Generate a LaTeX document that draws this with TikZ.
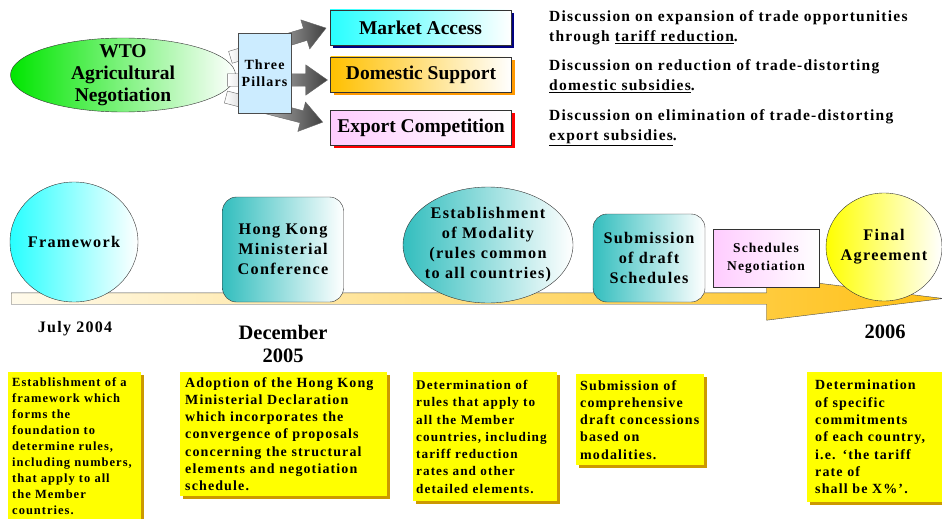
\documentclass[tikz,border=0pt]{standalone}
\usepackage{fontspec}
\setmainfont{Liberation Serif}
\newfontfamily\wide{Liberation Serif}[LetterSpace=8]
\usetikzlibrary{shapes.geometric,shapes.arrows,shadows}

\definecolor{wtogreen}{RGB}{0,230,0}
\definecolor{pillarblue}{RGB}{204,236,255}
\definecolor{accesscyan}{RGB}{40,255,255}
\definecolor{domorange}{RGB}{255,192,0}
\definecolor{exportpink}{RGB}{255,204,255}
\definecolor{navyshadow}{RGB}{0,0,128}
\definecolor{orangeshadow}{RGB}{255,153,0}
\definecolor{redshadow}{RGB}{255,0,0}
\definecolor{stageteal}{RGB}{51,190,190}
\definecolor{finalyellow}{RGB}{255,255,0}
\definecolor{linecream}{RGB}{255,250,235}
\definecolor{linegold}{RGB}{255,192,20}
\definecolor{noteyellow}{RGB}{255,255,0}
\definecolor{noteshadow}{RGB}{204,153,0}

\newcommand\fs[2]{\fontsize{#1}{#2}\selectfont}
\hyphenpenalty=10000
\exhyphenpenalty=10000

\tikzset{
  pilbox/.style={draw=black!80, minimum width=181pt, minimum height=35pt, right color=white,
    inner sep=0pt, font=\bfseries\fs{19.5}{22}},
  pilarrow/.style={single arrow, draw=black!60, left color=white, right color=black!75,
    minimum height=100pt, text height=6pt, text depth=6pt, single arrow head extend=9pt,
    single arrow tip angle=70, inner sep=0pt},
  desc/.style={anchor=west, align=left, inner sep=0pt, font=\wide\bfseries\fs{15.5}{20}},
  stage/.style={draw=black!80, right color=white, align=center, inner sep=0pt,
    font=\wide\bfseries\fs{16.2}{20}},
  when/.style={align=center, font=\bfseries\fs{20.5}{23}},
  note/.style={anchor=north west, fill=noteyellow, align=left, inner xsep=5pt, inner ysep=5pt,
    drop shadow={shadow xshift=3pt, shadow yshift=-3pt, fill=noteshadow, opacity=1},
    font=\wide\bfseries\fs{14}{17.3}},
}

\begin{document}
\begin{tikzpicture}[x=1pt,y=-1pt]
\useasboundingbox (0,0) rectangle (942,519);

\node[ellipse, draw=black!80, left color=wtogreen, right color=white, minimum width=225pt,
  minimum height=74pt, inner sep=-7pt, align=center, font=\bfseries\fs{19.5}{22}] (wto)
  at (123,75) {WTO\\Agricultural\\Negotiation};

\node[pilarrow, rotate=17] (arr1) at (274,44) {};
\node[pilarrow] (arr2) at (273,80) {};
\node[pilarrow, rotate=-14.6] (arr3) at (270,108.5) {};
\node[draw=black!70, fill=pillarblue, minimum width=53pt, minimum height=80pt, inner sep=0pt,
  align=center, font=\wide\bfseries\fs{14}{17}] (three) at (264.5,73) {Three\\Pillars};

\node[pilbox, left color=accesscyan,
  drop shadow={shadow xshift=3pt, shadow yshift=-3pt, fill=navyshadow, opacity=1}]
  (access) at (420.5,27.5) {Market Access};
\node[pilbox, left color=domorange,
  drop shadow={shadow xshift=3pt, shadow yshift=-3pt, fill=orangeshadow, opacity=1}]
  (domestic) at (421,74.5) {Domestic Support};
\node[pilbox, left color=exportpink,
  drop shadow={shadow xshift=3pt, shadow yshift=-3pt, fill=redshadow, opacity=1}]
  (export) at (421,127.5) {Export Competition};

\node[desc] (accessdesc) at (549,28)
  {Discussion on expansion of trade opportunities\\through \underline{tariff reduction}.};
\node[desc] (domesticdesc) at (549,76)
  {Discussion on reduction of trade-distorting\\\underline{domestic subsidies}.};
\node[desc] (exportdesc) at (549,128)
  {Discussion on elimination of trade-distorting\\\underline{export subsidies}.};

\node[single arrow, draw=black!70, left color=linecream, right color=linegold,
  minimum height=932pt, text height=5.5pt, text depth=5.5pt, single arrow head extend=16pt,
  single arrow tip angle=14, inner sep=0pt] (tline) at (454,298.5) {};

\node[stage, ellipse, left color=accesscyan, minimum width=128pt, minimum height=120pt,
  inner sep=-8pt] (framework) at (74,242) {Framework};
\node[stage, rounded corners=14pt, left color=stageteal, minimum width=121pt,
  minimum height=105pt] (hongkong) at (283,249.5) {Hong Kong\\Ministerial\\Conference};
\node[stage, ellipse, left color=stageteal, minimum width=170pt, minimum height=116pt,
  inner sep=-16pt] (modality) at (488,245)
  {Establishment\\of Modality\\(rules common\\to all countries)};
\node[stage, rounded corners=14pt, left color=stageteal, minimum width=112pt,
  minimum height=88pt] (draft) at (649,258) {Submission\\of draft\\Schedules};
\node[stage, left color=exportpink, minimum width=106pt, minimum height=58pt,
  font=\wide\bfseries\fs{13.5}{18}] (negotiation) at (766,258) {Schedules\\Negotiation};
\node[stage, ellipse, left color=finalyellow, minimum width=116pt, minimum height=108pt,
  inner sep=-10pt] (final) at (884,247) {Final\\Agreement};

\node[when, font=\wide\bfseries\fs{16}{20}] (july) at (75,329) {July 2004};
\node[when] (december) at (283,344) {December\\2005};
\node[when] (year06) at (885,332) {2006};

\node[note, text width=125pt, inner xsep=4pt, font=\wide\bfseries\fs{12.5}{16}] (framenote) at (8,372)
  {Establishment of a\\framework which\\forms the\\foundation to\\determine rules,\\including numbers,\\that apply to all\\the Member\\countries.};
\node[note, text width=197pt] (hknote) at (180,372)
  {Adoption of the Hong Kong\\Ministerial Declaration\\which incorporates the\\convergence of proposals\\concerning the structural\\elements and negotiation\\schedule.};
\node[note, text width=138pt, inner xsep=3pt, inner ysep=8pt, font=\wide\bfseries\fs{13.2}{17.3}]
  (modnote) at (413,372)
  {Determination of\\rules that apply to\\all the Member\\countries, including\\tariff reduction\\rates and other\\detailed elements.};
\node[note, text width=120pt, inner xsep=4pt, inner ysep=6pt] (draftnote) at (576,374)
  {Submission of\\comprehensive\\draft concessions\\based on\\modalities.};
\node[note, text width=127pt, inner xsep=8pt, inner ysep=8pt] (finalnote) at (807,372)
  {Determination\\of specific\\commitments\\of each country,\\i.e. ‘the tariff\\rate of\\shall be X\%’.};
\end{tikzpicture}
\end{document}
